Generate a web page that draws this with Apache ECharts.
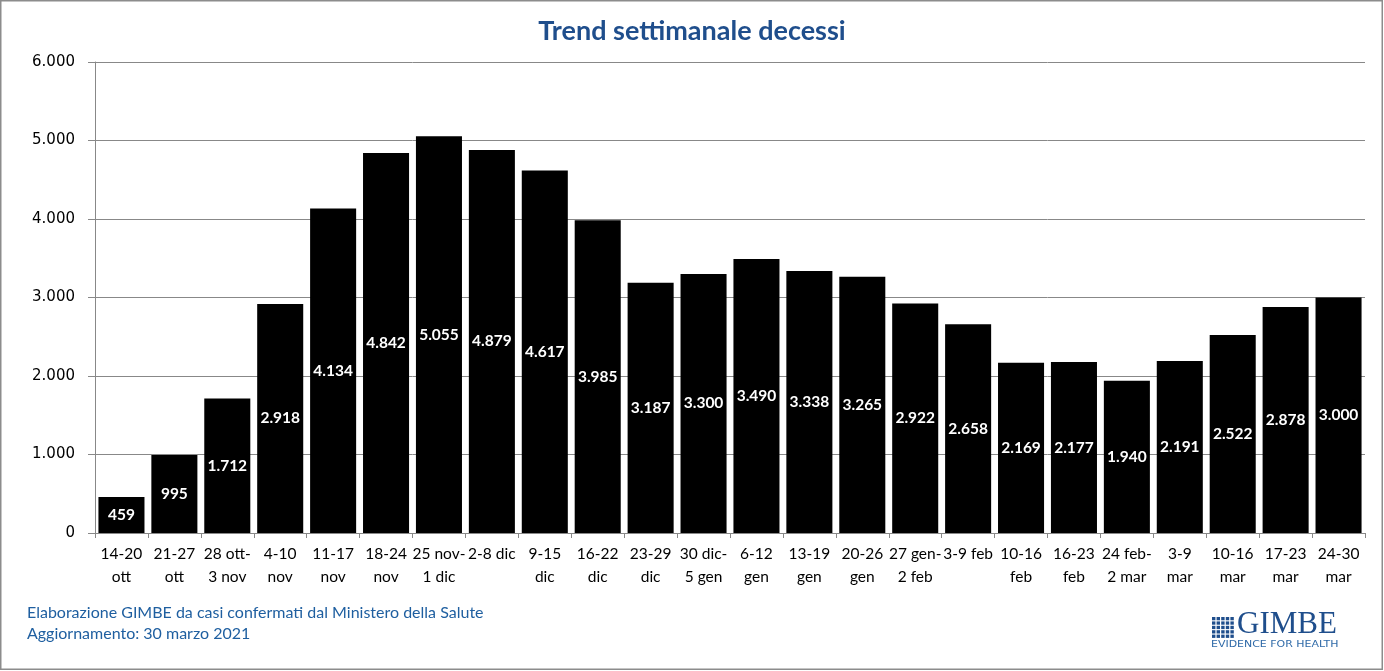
<!DOCTYPE html>
<html><head><meta charset="utf-8">
<script src="https://cdn.jsdelivr.net/npm/echarts@6/dist/echarts.min.js"></script>
<style>html,body{margin:0;padding:0;background:#fff}#c{width:1384px;height:671px}</style>
</head><body><div id="c"></div>
<script>
const categories = ["14-20\nott","21-27\nott","28 ott-\n3 nov","4-10\nnov","11-17\nnov","18-24\nnov","25 nov-\n1 dic","2-8 dic","9-15\ndic","16-22\ndic","23-29\ndic","30 dic-\n5 gen","6-12\ngen","13-19\ngen","20-26\ngen","27 gen-\n2 feb","3-9 feb","10-16\nfeb","16-23\nfeb","24 feb-\n2 mar","3-9\nmar","10-16\nmar","17-23\nmar","24-30\nmar"];
const deaths = [459,995,1712,2918,4134,4842,5055,4879,4617,3985,3187,3300,3490,3338,3265,2922,2658,2169,2177,1940,2191,2522,2878,3000];
const yTicks = [0,1000,2000,3000,4000,5000,6000];
const titleText = "Trend settimanale decessi";
const footer1 = "Elaborazione GIMBE da casi confermati dal Ministero della Salute";
const footer2 = "Aggiornamento: 30 marzo 2021";

function fmt(v){return String(v).replace(/\B(?=(\d{3})+(?!\d))/g,'.');}

const chart = echarts.init(document.getElementById('c'));
const logoSquares = [];
for(let r=0;r<5;r++){for(let c=0;c<5;c++){
  logoSquares.push({type:'rect',shape:{x:1212+c*4.6,y:617+r*4.4,width:3.4,height:3.3},style:{fill:'#1f4e8c'}});
}}
chart.setOption({
  animation:false,
  title:{text:titleText,left:'center',top:13,textStyle:{fontFamily:'Lato',fontSize:27,fontWeight:'bold',color:'#1f4e8c'}},
  grid:{left:95,right:19,top:62,bottom:138,containLabel:false},
  xAxis:{type:'category',data:categories,
    axisLine:{lineStyle:{color:'#888',width:1}},
    axisTick:{show:true,length:5,lineStyle:{color:'#888'}},
    axisLabel:{interval:0,color:'#000',fontFamily:'Lato',fontSize:15.5,lineHeight:23,margin:9}},
  yAxis:{type:'value',min:0,max:6000,interval:1000,
    axisLine:{show:true,lineStyle:{color:'#888'}},
    axisTick:{show:true,length:7,lineStyle:{color:'#888'}},
    splitLine:{lineStyle:{color:'#888',width:1}},
    axisLabel:{color:'#000',fontFamily:'DejaVu Sans',fontSize:15,margin:20,formatter:v=>fmt(v)}},
  series:[{type:'bar',data:deaths,barCategoryGap:'13%',
    itemStyle:{color:'#000'},
    label:{show:true,position:'inside',color:'#fff',fontFamily:'Lato',fontWeight:'bold',fontSize:15.5,formatter:p=>fmt(p.value)}}],
  graphic:[
    {type:'rect',shape:{x:0.75,y:0.75,width:1381.5,height:668.5},style:{fill:'none',stroke:'#8c8c8c',lineWidth:1.5},silent:true},
    {type:'text',left:27,top:605,style:{text:footer1,fontFamily:'Lato',fontSize:16,fill:'#1f5fa0'}},
    {type:'text',left:27,top:626,style:{text:footer2,fontFamily:'Lato',fontSize:16,fill:'#1f5fa0'}},
    ...logoSquares,
    {type:'text',left:1237,top:609,style:{text:'GIMBE',fontFamily:'Liberation Serif',fontSize:31,fill:'#1f4e8c'}},
    {type:'text',x:1211,y:641,scaleX:1.37,style:{text:'EVIDENCE FOR HEALTH',fontFamily:'DejaVu Sans',fontSize:8,fill:'#2f6aa8'}}
  ]
});
</script></body></html>
